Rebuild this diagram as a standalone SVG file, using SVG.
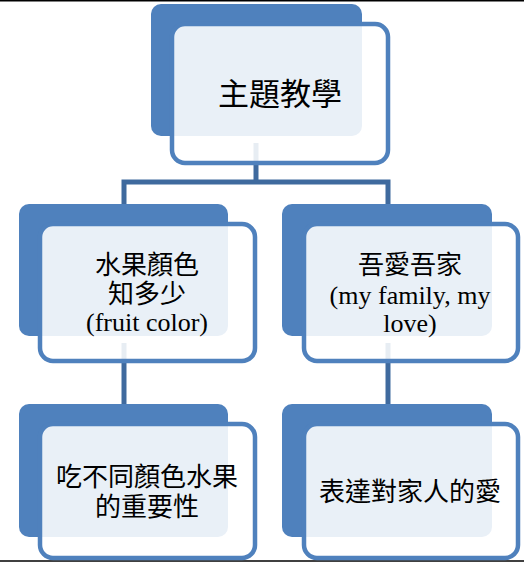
<svg xmlns="http://www.w3.org/2000/svg" width="524" height="562" viewBox="0 0 524 562">
<style>
.back{fill:#4F81BD;}
.front{fill:#FFFFFF;fill-opacity:0.88;stroke:#4F81BD;stroke-width:4.5;}
.conn{fill:none;stroke:#3F6A9E;stroke-width:5;stroke-linejoin:miter;}
.edge{stroke:#000;stroke-width:1.5;}
text{font-family:"Liberation Serif","Noto Sans CJK TC",serif;fill:#000;text-anchor:middle;}
.big{font-size:31px;}
.t{font-size:26px;}
</style>
<rect x="0" y="0" width="524" height="562" fill="#FFFFFF"/>
<line class="edge" x1="0" y1="0.75" x2="524" y2="0.75"/>
<line class="edge" x1="0" y1="561" x2="524" y2="561"/>
<g id="connectors">
<path class="conn" d="M256,143 V182"/>
<path class="conn" d="M124,204 V182 H388 V204"/>
<path class="conn" d="M124,343 V404"/>
<path class="conn" d="M388,343 V404"/>
</g>
<g id="root">
<rect class="back" x="151" y="4" width="211" height="132" rx="10"/>
<rect class="front" x="172" y="24" width="216" height="139" rx="13"/>
<text class="big" x="280" y="105">主題教學</text>
</g>
<g id="fruit">
<rect class="back" x="19" y="204" width="209" height="132" rx="10"/>
<rect class="front" x="40" y="224" width="215" height="137" rx="13"/>
<text class="t" x="147" y="274">水果顏色</text>
<text class="t" x="147" y="303">知多少</text>
<text class="t" x="147" y="331">(fruit color)</text>
</g>
<g id="family">
<rect class="back" x="282" y="204" width="210" height="132" rx="10"/>
<rect class="front" x="304" y="224" width="214" height="137" rx="13"/>
<text class="t" x="410" y="274">吾愛吾家</text>
<text class="t" x="410" y="304">(my family, my</text>
<text class="t" x="410" y="332">love)</text>
</g>
<g id="fruit-importance">
<rect class="back" x="19" y="404" width="209" height="133" rx="10"/>
<rect class="front" x="40" y="424" width="215" height="134" rx="13"/>
<text class="t" x="147" y="486">吃不同顏色水果</text>
<text class="t" x="147" y="516">的重要性</text>
</g>
<g id="family-love">
<rect class="back" x="282" y="404" width="210" height="133" rx="10"/>
<rect class="front" x="304" y="424" width="214" height="134" rx="13"/>
<text class="t" x="410" y="501">表達對家人的愛</text>
</g>
</svg>
